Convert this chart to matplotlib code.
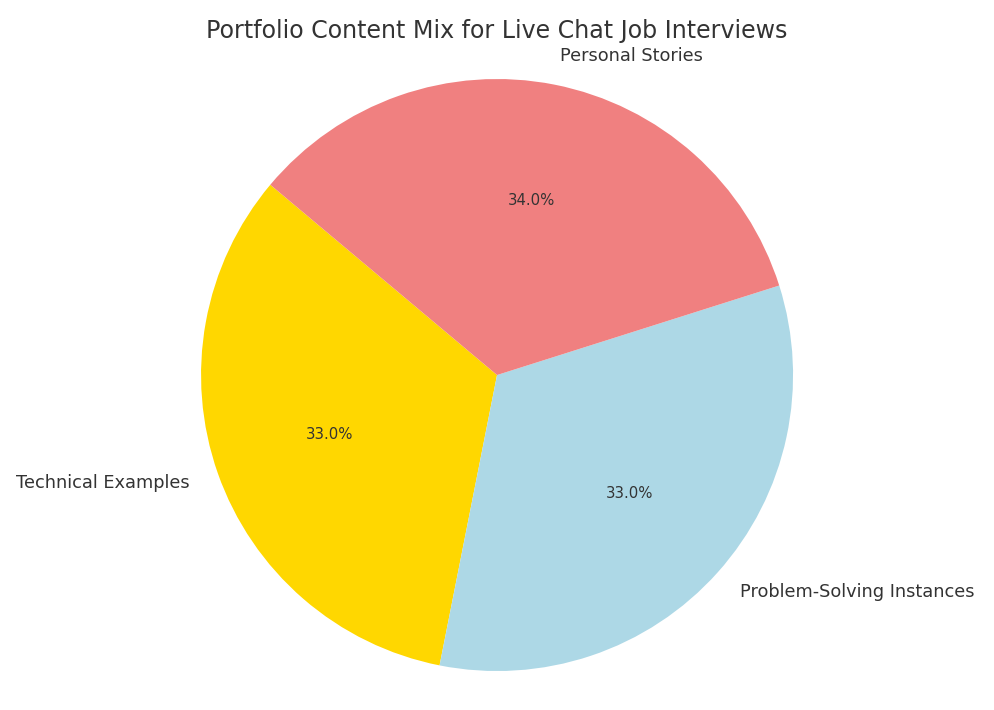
import matplotlib
matplotlib.use('Agg')
import matplotlib.pyplot as plt

labels = ['Technical Examples', 'Problem-Solving Instances', 'Personal Stories']
sizes = [33, 33, 34]
colors = ['gold', 'lightblue', 'lightcoral']

plt.rcParams['text.color'] = '#333333'

fig = plt.figure(figsize=(9.95, 7.1), dpi=100)
# square axes placed so the pie sits where it does in the reference
ax = fig.add_axes([0.1723, 0.0132, 0.6545, 0.9172])
wedges, texts, autotexts = ax.pie(sizes, labels=labels, colors=colors,
                                  autopct='%1.1f%%', startangle=140,
                                  textprops={'color': '#333333'})
for t in texts:
    t.set_fontsize(12.8)
for t in autotexts:
    t.set_fontsize(10.7)
ax.set_xlim(-1.1, 1.1)
ax.set_ylim(-1.1, 1.1)
ax.set_aspect('equal')

fig.text(0.4995, 0.957, 'Portfolio Content Mix for Live Chat Job Interviews',
         ha='center', va='center', fontsize=17.1, color='#333333')

fig.savefig('out.png', dpi=100)
plt.close(fig)
